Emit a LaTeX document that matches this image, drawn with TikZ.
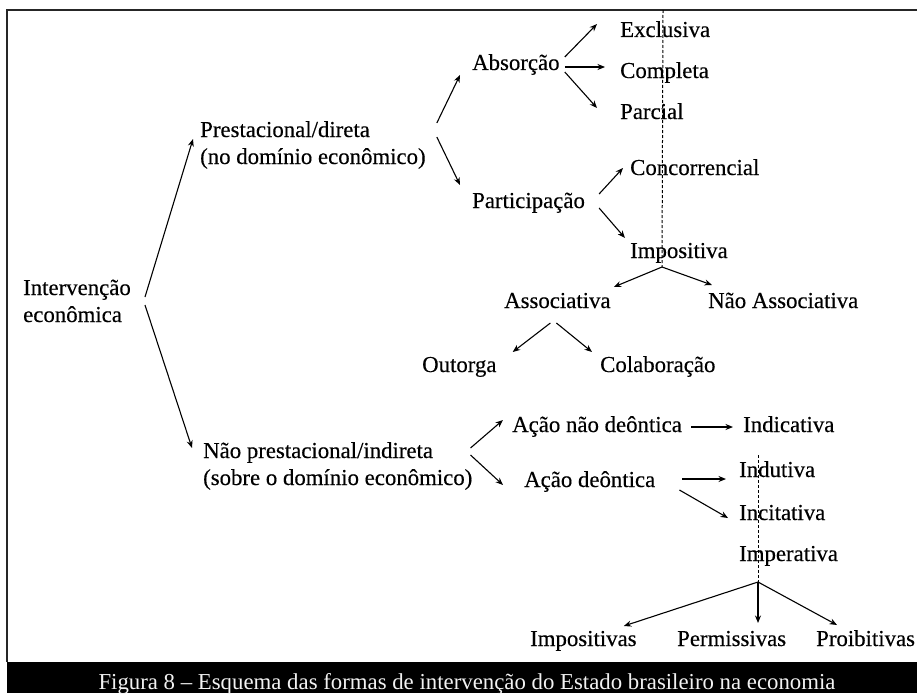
\documentclass[tikz,border=0pt]{standalone}
\usepackage{fontspec}
\setmainfont{Liberation Serif}
\newfontfamily\labelfont{Liberation Serif}[FakeBold=0.35]
\usetikzlibrary{arrows.meta}
\begin{document}
\begin{tikzpicture}[x=1pt,y=-1pt,
  lbl/.style={anchor=base west,inner sep=0pt,font=\labelfont\fontsize{22.8}{27}\selectfont},
  arr/.style={-{Stealth[length=7.5pt,width=6pt]},line width=1.1pt},
  guide/.style={line width=1pt,dash pattern=on 3pt off 2pt},
  frameline/.style={line width=2pt,draw=black!85}]
\useasboundingbox (0,0) rectangle (917,693);

% frame and caption bar
\draw[frameline] (917,10) -- (7,10) -- (7,662);
\fill[black] (7,662) rectangle (917,693);
\node[anchor=base,inner sep=0pt,text=black!5,font=\fontsize{22.8}{27}\selectfont] (caption) at (467,689)
  {Figura 8 – Esquema das formas de intervenção do Estado brasileiro na economia};

% labels
\node[lbl] (interv1) at (23,295) {Intervenção};
\node[lbl] (interv2) at (23,322) {econômica};
\node[lbl] (prest1) at (200,137) {Prestacional/direta};
\node[lbl] (prest2) at (200,164) {(no domínio econômico)};
\node[lbl] (nprest1) at (203,458) {Não prestacional/indireta};
\node[lbl] (nprest2) at (203,485) {(sobre o domínio econômico)};
\node[lbl] (absorcao) at (472,70) {Absorção};
\node[lbl] (exclusiva) at (620,37) {Exclusiva};
\node[lbl] (completa) at (620,78) {Completa};
\node[lbl] (parcial) at (620,119) {Parcial};
\node[lbl] (particip) at (472,208) {Participação};
\node[lbl] (concorr) at (630,175) {Concorrencial};
\node[lbl] (impositiva) at (630,258) {Impositiva};
\node[lbl] (assoc) at (504,308) {Associativa};
\node[lbl] (nassoc) at (708,308) {Não Associativa};
\node[lbl] (outorga) at (422,372) {Outorga};
\node[lbl] (colab) at (600,372) {Colaboração};
\node[lbl] (andeon) at (512,432) {Ação não deôntica};
\node[lbl] (indicat) at (743,432) {Indicativa};
\node[lbl] (adeon) at (524,487) {Ação deôntica};
\node[lbl] (indut) at (739,477) {Indutiva};
\node[lbl] (incit) at (739,520) {Incitativa};
\node[lbl] (imper) at (739,561) {Imperativa};
\node[lbl] (imposs) at (530,646) {Impositivas};
\node[lbl] (permis) at (677,646) {Permissivas};
\node[lbl] (proib) at (816,646) {Proibitivas};

% branching points
\coordinate (frametop) at (663,10);
\coordinate (impfork) at ([shift={(32,9)}]impositiva.base west);
\coordinate (imperfork) at ([shift={(19,21)}]imper.base west);

% level 1
\draw[arr] ([shift={(14,2)}]interv1.base east) -- ([shift={(-7,2)}]prest1.base west);
\draw[arr] ([shift={(14,10)}]interv1.base east) -- ([shift={(-11,-10)}]nprest1.base west);

% prestacional branch
\draw[arr] ([shift={(11,-41)}]prest2.base east) -- ([shift={(-12,5)}]absorcao.base west);
\draw[arr] ([shift={(11,-27)}]prest2.base east) -- ([shift={(-12,-23)}]particip.base west);
\draw[arr] ([shift={(5,-13)}]absorcao.base east) -- ([shift={(-23,-13)}]exclusiva.base west);
\draw[arr] ([shift={(5,-3)}]absorcao.base east) -- ([shift={(-15,-11)}]completa.base west);
\draw[arr] ([shift={(5,2)}]absorcao.base east) -- ([shift={(-23,-11)}]parcial.base west);
\draw[arr] ([shift={(14,-14)}]particip.base east) -- ([shift={(-7,-7)}]concorr.base west);
\draw[arr] ([shift={(14,0)}]particip.base east) -- ([shift={(-5,-20)}]impositiva.base west);
\draw[arr] (impfork) -- ([shift={(3,-21)}]assoc.base east);
\draw[arr] (impfork) -- ([shift={(4,-23)}]nassoc.base west);
\draw[arr] ([shift={(-7,15)}]assoc.base) -- ([shift={(16,-20)}]outorga.base east);
\draw[arr] ([shift={(-1,15)}]assoc.base) -- ([shift={(-8,-20)}]colab.base west);

% nao prestacional branch
\draw[arr] ([shift={(-2,-37)}]nprest2.base east) -- ([shift={(-9,-12)}]andeon.base west);
\draw[arr] ([shift={(-2,-30)}]nprest2.base east) -- ([shift={(-21,-2)}]adeon.base west);
\draw[arr] ([shift={(9,-5)}]andeon.base east) -- ([shift={(-10,-5)}]indicat.base west);
\draw[arr] ([shift={(27,-8)}]adeon.base east) -- ([shift={(-13,2)}]indut.base west);
\draw[arr] ([shift={(24,3)}]adeon.base east) -- ([shift={(-11,-2)}]incit.base west);
\draw[arr] (imperfork) -- ([shift={(-13,-20)}]imposs.base east);
\draw[arr] (imperfork) -- ([shift={(81,-23)}]permis.base west);
\draw[arr] (imperfork) -- ([shift={(21,-21)}]proib.base west);

% dashed guides
\draw[guide] (frametop) -- (impfork);
\draw[guide] ([shift={(19,-22)}]indut.base west) -- (imperfork);
\end{tikzpicture}
\end{document}
